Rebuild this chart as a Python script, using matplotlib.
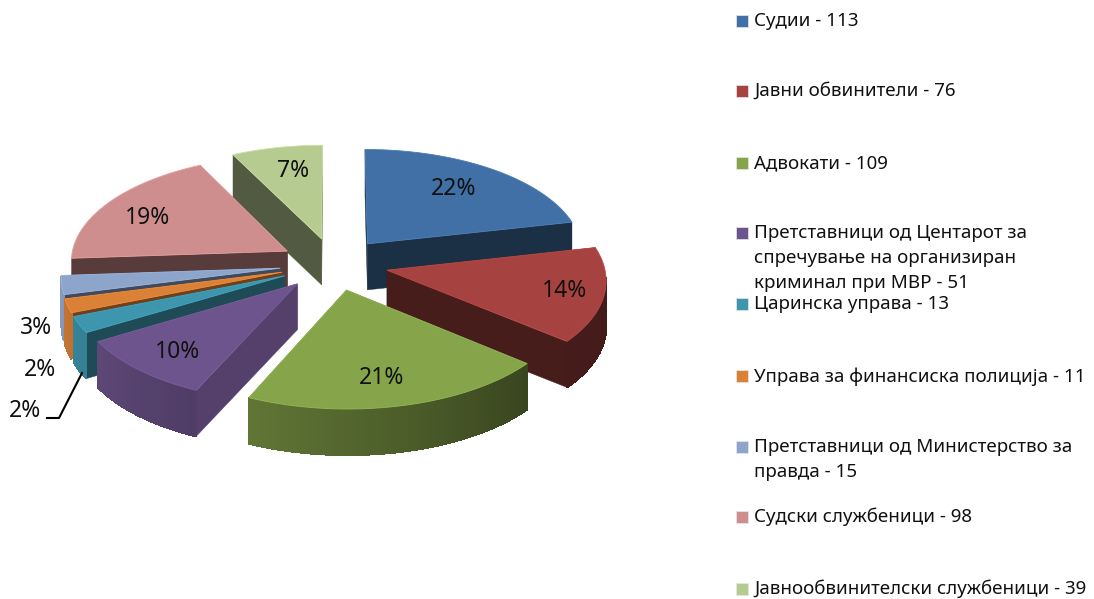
import numpy as np
import matplotlib
matplotlib.use("Agg")
import matplotlib.pyplot as plt
from matplotlib.patches import Polygon, Rectangle
from matplotlib.colors import to_rgb

plt.rcParams['font.family'] = ['Noto Sans', 'DejaVu Sans']

# data
categories = ["Судии", "Јавни обвинители", "Адвокати",
              "Претставници од Центарот за\nспречување на организиран\nкриминал при МВР",
              "Царинска управа", "Управа за финансиска полиција",
              "Претставници од Министерство за\nправда", "Судски службеници",
              "Јавнообвинителски службеници"]
values = [113, 76, 109, 51, 13, 11, 15, 98, 39]
colors = ["#4070a5", "#a64340", "#86a44a", "#6e548d", "#3d96ae",
          "#da8137", "#8ea5cb", "#ce8e8d", "#b6cb90"]
side_shade = [0.42, 0.43, 0.45, 0.76, 0.5, 0.5, 0.45, 0.42, 0.45]
label_pos = [(454, 189), (565, 291), (382, 378), (178, 352), (25, 411),
             (40, 370), (36, 328), (148, 218), (293, 171)]
legend_y = [21, 91, 163, 233, 304, 376, 447, 517, 589]

# pie geometry, in pixels
CX, CY = 334, 264
RX, RY = 217, 105
PERSP = 0.08
EXPLODE = 0.25
DEPTH = 46


def project(u, v):
    """Squash a point of the unit pie plane onto the screen, near edge larger."""
    s = 1 / (1 + PERSP * v)
    return CX + RX * u * s, CY - RY * v * s


def shade(color, f):
    return tuple(np.clip(np.array(to_rgb(color)) * f, 0, 1))


def draw_wedge(ax, start, end, color, side):
    mid = (start + end) / 2
    ou, ov = EXPLODE * np.sin(mid), EXPLODE * np.cos(mid)
    theta = np.linspace(start, end, max(int((end - start) * 60), 4))
    arc_x, arc_y = project(ou + np.sin(theta), ov + np.cos(theta))
    ax_, ay_ = project(ou, ov)
    # radial side faces
    for px, py in ((arc_x[-1], arc_y[-1]), (arc_x[0], arc_y[0])):
        quad = [(ax_, ay_), (px, py), (px, py + DEPTH), (ax_, ay_ + DEPTH)]
        ax.add_patch(Polygon(quad, fc=shade(color, side), ec=shade(color, side), lw=0.3))
    # outer wall, lighter towards the left
    for i in range(len(theta) - 1):
        # only the part of the rim that faces the viewer
        if np.cos(theta[i]) > -0.08 and np.cos(theta[i + 1]) > -0.08:
            continue
        f = np.interp(np.degrees(theta[i]), [90, 130, 204, 240, 270], [0.4, 0.42, 0.72, 0.85, 0.95])
        c = shade(color, f)
        quad = [(arc_x[i], arc_y[i]), (arc_x[i + 1], arc_y[i + 1]),
                (arc_x[i + 1], arc_y[i + 1] + DEPTH), (arc_x[i], arc_y[i] + DEPTH)]
        ax.add_patch(Polygon(quad, fc=c, ec=c, lw=0.8, antialiased=False))
        # smooth the jagged lower rim
        ax.plot(arc_x[i:i + 2], arc_y[i:i + 2] + DEPTH, color=c, lw=1.0, solid_capstyle="round")
    # top face
    top = [(ax_, ay_)] + list(zip(arc_x, arc_y))
    ax.add_patch(Polygon(top, fc=color, ec=shade(color, 1.12), lw=0.6))


fig = plt.figure(figsize=(10.94, 5.99), dpi=100)
ax = fig.add_axes([0, 0, 1, 1])
ax.set_xlim(0, 1094)
ax.set_ylim(599, 0)
ax.axis("off")

total = sum(values)
edges = 2 * np.pi * np.cumsum([0] + values) / total

# back to front
order = sorted(range(len(values)),
               key=lambda i: project(EXPLODE * np.sin((edges[i] + edges[i + 1]) / 2),
                                     EXPLODE * np.cos((edges[i] + edges[i + 1]) / 2))[1])
for i in order:
    draw_wedge(ax, edges[i], edges[i + 1], colors[i], side_shade[i])

for v, (x, y) in zip(values, label_pos):
    ax.text(x, y, f"{round(100 * v / total)}%", fontsize=16.5, color="#111111",
            ha="center", va="center")

# leader line for the teal slice
ax.plot([82, 59, 47], [373, 418, 418], color="black", lw=1.5)

for name, v, c, y in zip(categories, values, colors, legend_y):
    ax.add_patch(Rectangle((736, y - 6), 12, 12, fc=c, ec="#e8e8e8", lw=0.5))
    ax.text(754, y - 9, f"{name} - {v}", fontsize=13.5, color="#111111", ha="left", va="top",
            linespacing=1.5)

fig.savefig("out.png", dpi=100)
